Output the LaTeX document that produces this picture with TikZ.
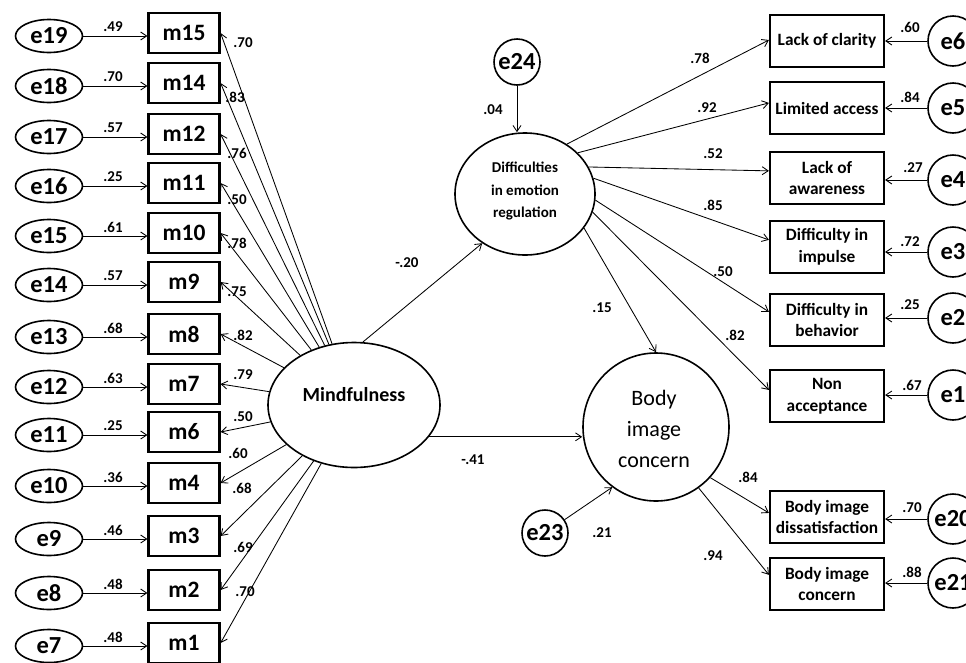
\documentclass[tikz,border=0pt]{standalone}
\usepackage{fontspec}
\setmainfont{Carlito}
\usetikzlibrary{shapes.geometric,arrows.meta}
\begin{document}
\begin{tikzpicture}[x=1pt,y=-1pt,
  box/.style={draw, line width=2.2pt, minimum width=71pt, minimum height=40pt, inner sep=0pt, font=\fontsize{23.5}{25}\selectfont\bfseries},
  errl/.style={ellipse, draw, line width=1.6pt, minimum width=67pt, minimum height=33pt, inner sep=0pt, font=\fontsize{24.5}{26}\selectfont\bfseries},
  rbox/.style={draw, line width=2.2pt, minimum width=114pt, minimum height=52pt, inner sep=0pt, align=center, font=\fontsize{17.3}{21.5}\selectfont\bfseries},
  errc/.style={circle, draw, line width=1.6pt, minimum size=50pt, inner sep=0pt, font=\fontsize{24.5}{26}\selectfont\bfseries},
  lat/.style={ellipse, draw, line width=1.6pt, inner sep=0pt},
  lab/.style={font=\fontsize{15}{16}\selectfont\bfseries, inner sep=0pt},
  arr/.style={-{Straight Barb[length=6pt,width=8pt]}, line width=0.85pt},
]
\useasboundingbox (0,0) rectangle (966,662);

% latent variables
\node[lat, minimum width=172pt, minimum height=125pt] (mind) at (354,405) {};
\node[font=\fontsize{20}{21}\selectfont\bfseries] (mindt) at (354,395) {Mindfulness};
\node[lat, minimum width=140pt, minimum height=122pt] (diff) at (525,194) {};
\node[align=center, font=\fontsize{15}{22.5}\selectfont\bfseries] (difft) at (525,191) {Difficulties\\in emotion\\regulation};
\node[lat, minimum width=146pt, minimum height=148pt] (bic) at (656,427) {};
\node[align=center, font=\fontsize{22}{31}\selectfont] (bict) at (654,429) {Body\\image\\concern};
\node[errc, minimum size=46pt] (e24) at (517,62) {e24};
\node[errc, minimum size=46pt] (e23) at (545,533) {e23};

% left indicators
\foreach \m/\y/\e/\el/\ld/\lx/\ly in {
  15/33/19/.49/.70/243/43,
  14/83/18/.70/.83/235/97,
  12/134/17/.57/.76/237/153,
  11/183/16/.25/.50/237/200,
  10/233/15/.61/.78/237/243,
  9/282/14/.57/.75/237/292,
  8/334/13/.68/.82/243/335,
  7/384/12/.63/.79/243/375,
  6/432/11/.25/.50/243/417,
  4/483/10/.36/.60/238/453,
  3/536/9/.46/.68/242/488,
  2/590/8/.48/.69/243/547,
  1/643/7/.48/.70/245/592}{
  \node[box] (m\m) at (184,\y) {m\m};
  \node[errl] (e\e) at (49,\y+3) {e\e};
  \draw[arr] (e\e.east) -- (e\e.east -| m\m.west);
  \node[lab] at (113,\y-6) {\el};
  \draw[arr] (mind) -- (m\m.east);
  \node[lab] at (\lx,\ly) {\ld};
}

% right indicators
\node[rbox] (r6) at (827,41) {Lack of clarity};
\node[rbox] (r5) at (827,108) {Limited access};
\node[rbox] (r4) at (827,178) {Lack of\\awareness};
\node[rbox] (r3) at (827,247) {Difficulty in\\impulse};
\node[rbox] (r2) at (827,320) {Difficulty in\\behavior};
\node[rbox] (r1) at (827,396) {Non\\acceptance};
\node[rbox] (r20) at (827,517) {Body image\\dissatisfaction};
\node[rbox] (r21) at (827,584) {Body image\\concern};

\node[errc] (e6) at (953,41) {e6};
\node[errc] (e5) at (953,108) {e5};
\node[errc] (e4) at (953,180) {e4};
\node[errc] (e3) at (953,252) {e3};
\node[errc] (e2) at (953,318) {e2};
\node[errc] (e1) at (953,395) {e1};
\node[errc] (e20) at (953,519) {e20};
\node[errc] (e21) at (953,583) {e21};

\foreach \k/\lx/\ly/\v in {6/910/27/.60, 5/910/97/.84, 4/913/168/.27, 3/910/242/.72, 2/910/305/.25, 1/912/385/.67, 20/912/508/.70, 21/912/572/.88}{
  \draw[arr] (e\k.west) -- (e\k.west -| r\k.east);
  \node[lab] at (\lx,\ly) {\v};
}

% structural paths
\draw[arr] (diff.50) -- (r6.179);
\draw[arr] (diff.38) -- (r5.175);
\draw[arr] (diff.23) -- (r4.173);
\draw[arr] (diff.13) -- (r3.173);
\draw[arr] (diff.-5) -- (r2.172);
\draw[arr] (diff.-15) -- (r1.174);
\draw[arr] (bic.-43) -- (r20.176);
\draw[arr] (bic.-55) -- (r21.171);
\draw[arr] (e24.south) -- (e24.south |- diff.north);
\draw[arr] (mind.82) -- (diff.229);
\draw[arr] (diff.-30) -- (bic.north);
\draw[arr] (mind.-23.5) -- (mind.-23.5 -| bic.west);
\draw[arr] (e23) -- (bic.234);

\node[lab] at (700,58) {.78};
\node[lab] at (707,108) {.92};
\node[lab] at (713,154) {.52};
\node[lab] at (713,205) {.85};
\node[lab] at (723,272) {.50};
\node[lab] at (735,335) {.82};
\node[lab] at (748,477) {.84};
\node[lab] at (713,556) {.94};
\node[lab] at (407,263) {-.20};
\node[lab] at (602,308) {.15};
\node[lab] at (473,460) {-.41};
\node[lab] at (602,533) {.21};
\node[lab] at (493,110) {.04};
\end{tikzpicture}
\end{document}
